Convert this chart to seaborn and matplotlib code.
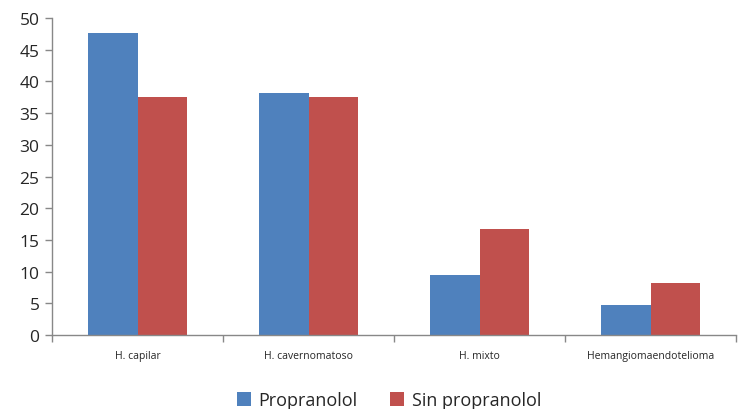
import pandas as pd
import numpy as np
import matplotlib
matplotlib.use("Agg")
import matplotlib.pyplot as plt
import seaborn as sns

categories = ["H. capilar", "H. cavernomatoso", "H. mixto", "Hemangiomaendotelioma"]
propranolol = [47.6, 38.1, 9.5, 4.8]
sin_propranolol = [37.5, 37.5, 16.7, 8.3]
series_names = ["Propranolol", "Sin propranolol"]
colors = ["#4F81BD", "#C0504D"]

df = pd.DataFrame({
    "cat": categories * 2,
    "serie": [series_names[0]] * 4 + [series_names[1]] * 4,
    "valor": propranolol + sin_propranolol,
})

sns.set_theme(style="white")
plt.rcParams["font.family"] = ["Open Sans", "DejaVu Sans"]

fig = plt.figure(figsize=(7.38, 4.10), dpi=100)
ax = fig.add_axes([0.0705, 0.18, 0.927, 0.774])

sns.barplot(data=df, x="cat", y="valor", hue="serie", palette=colors,
            width=0.58, saturation=1, linewidth=0, ax=ax, legend=True)

ax.set_ylim(0, 50)
ax.set_yticks(np.arange(0, 51, 5))
ax.set_xlim(-0.5, len(categories) - 0.5)
ax.set_xlabel("")
ax.set_ylabel("")
ax.tick_params(axis="y", labelsize=12.5, length=5, width=1, color="#888888", left=True, pad=4)
ax.tick_params(axis="x", labelsize=7.5, length=0, pad=11)
# tick marks between categories on the x axis
ax.set_xticks(np.arange(-0.5, len(categories)), minor=True)
ax.tick_params(axis="x", which="minor", length=5, width=1, color="#888888", bottom=True)

for s in ["top", "right"]:
    ax.spines[s].set_visible(False)
for s in ["left", "bottom"]:
    ax.spines[s].set_color("#888888")
    ax.spines[s].set_linewidth(1)

handles, labels = ax.get_legend_handles_labels()
ax.legend_.remove()
fig.legend(handles, labels, loc="lower center", bbox_to_anchor=(0.527, -0.04), ncol=2,
           frameon=False, fontsize=13, handlelength=0.8, handleheight=0.8,
           handletextpad=0.4, columnspacing=1.8)

fig.savefig("out.png", dpi=100)
